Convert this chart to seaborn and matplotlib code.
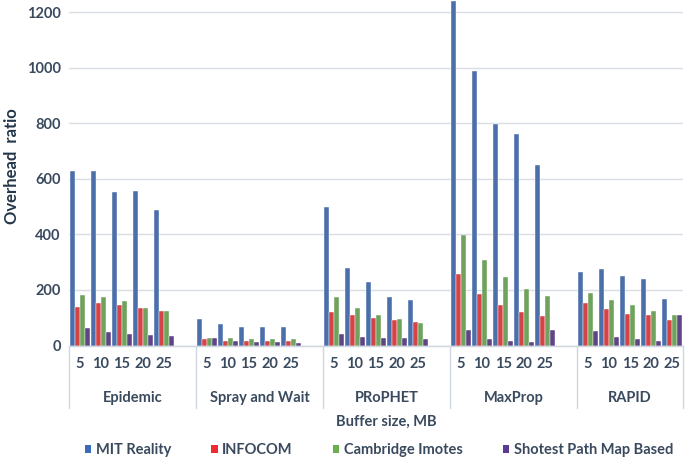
import matplotlib
matplotlib.use("Agg")
import matplotlib.pyplot as plt
import seaborn as sns
import pandas as pd
from matplotlib.patches import Patch

protocols = ["Epidemic", "Spray and Wait", "PRoPHET", "MaxProp", "RAPID"]
buffer_sizes = ["5", "10", "15", "20", "25"]
series = ["MIT Reality", "INFOCOM", "Cambridge Imotes", "Shotest Path Map Based"]

mit_reality = [630, 630, 553, 558, 489,
               95, 76, 66, 66, 66,
               498, 280, 230, 174, 163,
               1240, 990, 799, 762, 650,
               265, 275, 250, 241, 169]
infocom = [140, 154, 145, 134, 124,
           22, 17, 17, 17, 17,
           120, 110, 100, 91, 86,
           257, 184, 145, 120, 105,
           154, 130, 115, 110, 91]
cambridge = [183, 174, 159, 134, 124,
             28, 28, 22, 22, 22,
             174, 134, 110, 95, 81,
             397, 309, 246, 203, 178,
             188, 164, 145, 124, 110]
shortest_path = [62, 48, 43, 38, 33,
                 28, 17, 11, 11, 8,
                 43, 32, 27, 27, 22,
                 56, 22, 17, 13, 56,
                 51, 32, 22, 17, 110]

colors = ["#3a6bbb", "#ee2b2f", "#6aae50", "#5d3a92"]

sns.set_theme(style="white")
font = ["Lato", "DejaVu Sans"]
plt.rcParams["font.family"] = font
plt.rcParams["font.weight"] = "bold"
tick_color = "#3a4a5e"

# build long table
rows = []
all_vals = [mit_reality, infocom, cambridge, shortest_path]
for gi, p in enumerate(protocols):
    for si, b in enumerate(buffer_sizes):
        for ser, vals in zip(series, all_vals):
            rows.append({"slot": f"{p}|{b}", "value": vals[gi * 5 + si], "series": ser})
df = pd.DataFrame(rows)

order = []
tick_labels = []
for gi, p in enumerate(protocols):
    for b in buffer_sizes:
        order.append(f"{p}|{b}")
        tick_labels.append(b)
    if gi < len(protocols) - 1:
        order.append(f"blank{gi}")
        tick_labels.append("")

W, H = 685, 459
fig = plt.figure(figsize=(W / 100, H / 100), dpi=100)
x0, x1 = 69, 683
y_zero, y_top = 345.5, 0
ax = fig.add_axes([x0 / W, 1 - y_zero / H, (x1 - x0) / W, (y_zero - y_top) / H])

sns.barplot(data=df, x="slot", y="value", hue="series", order=order,
            hue_order=series, palette=colors, width=0.94, errorbar=None,
            edgecolor="white", linewidth=0.3, ax=ax, legend=False)

ax.set_xlim(-0.5, len(order) - 0.5)
ax.set_ylim(0, 345.5 / 0.2775)
ax.set_yticks(range(0, 1201, 200))
ax.set_yticklabels([str(v) for v in range(0, 1201, 200)], fontsize=10.5,
                   fontweight="bold", color=tick_color)
ax.set_xticks(range(len(order)))
ax.set_xticklabels(tick_labels, fontsize=10.5, fontweight="bold", color=tick_color)
ax.tick_params(axis="x", length=0, pad=8)
ax.tick_params(axis="y", length=0, pad=6)
ax.set_xlabel("")
ax.set_ylabel("")
ax.grid(axis="y", color="#d9dde3", linewidth=1.0)
ax.set_axisbelow(True)
for s in ["top", "right", "left"]:
    ax.spines[s].set_visible(False)
ax.spines["bottom"].set_color("#d0d6e0")
ax.spines["bottom"].set_linewidth(1.0)

# group separators and protocol labels
trans = ax.get_xaxis_transform()
sep_depth = (408 - y_zero) / (y_zero - y_top)
seps = [-0.5] + [gi * 6 + 5.5 for gi in range(len(protocols) - 1)] + [len(order) - 0.5]
for s in seps:
    ax.plot([s, s], [0, -sep_depth], transform=trans, color="#d0d6e0",
            linewidth=1.0, clip_on=False)
for gi, p in enumerate(protocols):
    xc = (seps[gi] + seps[gi + 1]) / 2
    ax.annotate(p, xy=(xc, 0), xycoords=trans, xytext=(0, -(398 - y_zero) * 0.72),
                textcoords="offset points", ha="center", va="center",
                fontsize=10.5, fontweight="bold", color=tick_color)

fig.text(12.5 / W, 1 - 166.5 / H, "Overhead  ratio", rotation=90, ha="center",
         va="center", fontsize=12, fontweight="bold", color="#24364a")
fig.text(386 / W, 1 - 421.5 / H, "Buffer size, MB", ha="center", va="center",
         fontsize=10.5, fontweight="bold", color=tick_color)

handles = [Patch(facecolor=c, edgecolor="none") for c in colors]
leg = fig.legend(handles, series, loc="center", bbox_to_anchor=(379 / W, 1 - 450 / H),
                 ncol=4, frameon=False, handlelength=0.45, handleheight=0.45,
                 handletextpad=0.3, columnspacing=2.75,
                 prop={"family": font, "weight": "bold", "size": 10.5})
for t in leg.get_texts():
    t.set_color(tick_color)

fig.savefig("out.png", dpi=100)
